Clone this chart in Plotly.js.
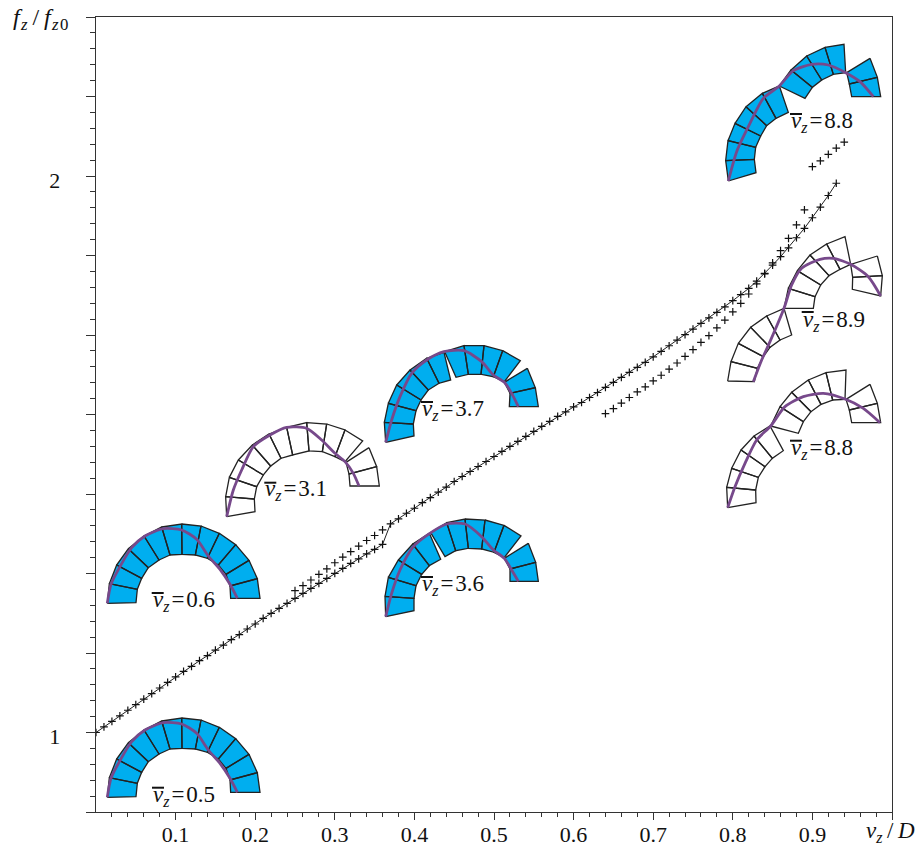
<!DOCTYPE html>
<html><head><meta charset="utf-8">
<script src="https://cdn.plot.ly/plotly-3.0.1.min.js"></script>
<style>html,body{margin:0;padding:0;background:#fff}</style></head>
<body><div id="chart" style="width:919px;height:845px"></div>
<script>
// ---- measured curve values (x = v_z/D, y = f_z/f_z0)
const mainA_x=[0,.01,.02,.03,.04,.05,.06,.07,.08,.09,.10,.11,.12,.13,.14,.15,.16,.17,.18,.19,.20,.21,.22,.23,.24,.25,.26,.27,.28,.29,.30,.31,.32,.33,.34,.35,.36,.37,.38,.39,.40,.41,.42,.43,.44,.45,.46,.47,.48,.49,.50,.51,.52,.53,.54,.55,.56,.57,.58,.59,.60,.61,.62,.63,.64,.65,.66,.67,.68,.69,.70,.71,.72,.73,.74,.75,.76,.77,.78,.79,.80,.81,.82,.83,.84,.85,.86,.87,.88,.89,.90,.91,.92,.93];
const mainA_y=[1.000,1.010,1.020,1.030,1.040,1.050,1.060,1.070,1.080,1.090,1.100,1.110,1.119,1.129,1.138,1.148,1.157,1.167,1.176,1.186,1.195,1.205,1.214,1.223,1.232,1.241,1.250,1.259,1.268,1.277,1.286,1.295,1.304,1.312,1.321,1.329,1.338,1.375,1.384,1.394,1.403,1.413,1.422,1.432,1.441,1.451,1.460,1.469,1.478,1.487,1.496,1.505,1.514,1.523,1.532,1.541,1.550,1.559,1.568,1.576,1.585,1.593,1.602,1.611,1.620,1.629,1.638,1.647,1.656,1.665,1.675,1.685,1.695,1.705,1.715,1.725,1.735,1.745,1.755,1.765,1.776,1.787,1.798,1.811,1.825,1.840,1.855,1.871,1.889,1.906,1.925,1.944,1.965,1.987];
const plusB_x=[.25,.26,.27,.28,.29,.30,.31,.32,.33,.34,.35,.36];
const plusB_y=[1.255,1.264,1.274,1.284,1.294,1.305,1.315,1.325,1.335,1.345,1.354,1.364];
const plusC_x=[.64,.65,.66,.67,.68,.69,.70,.71,.72,.73,.74,.75,.76,.77,.78,.79,.80,.81,.82,.83,.84,.85,.86,.87,.88,.89,.90,.91,.92,.93,.94];
const plusC_y=[1.573,1.582,1.592,1.602,1.612,1.621,1.632,1.642,1.653,1.664,1.676,1.688,1.701,1.713,1.727,1.741,1.756,1.771,1.788,1.806,1.824,1.844,1.866,1.888,1.912,1.939,2.017,2.027,2.039,2.050,2.061];

// ---- axis ticks
const xTicks=[.1,.2,.3,.4,.5,.6,.7,.8,.9,1];
const xLabels=['0.1','0.2','0.3','0.4','0.5','0.6','0.7','0.8','0.9',''];
const xMinor=[.02,.04,.06,.08,.12,.14,.16,.18,.22,.24,.26,.28,.32,.34,.36,.38,.42,.44,.46,.48,.52,.54,.56,.58,.62,.64,.66,.68,.72,.74,.76,.78,.82,.84,.86,.88,.92,.94,.96,.98];
const yTicks=[6/7,1,8/7,9/7,10/7,11/7,12/7,13/7,2,15/7,16/7];
const yLabels=['','1','','','','','','','2','',''];

// ---- arch insets, in their own schematic units (outer/inner rim joints, blocks listed as joint runs)
const archA_ox=[322,328,350,385,432,485,545,603,658,707,747,772,780];
const archA_oy=[292,233,177,128,90,63,54,60,82,116,163,218,277];
const archA_ix=[408,412,425,445,477,510,546,586,622,655,678,690,692];
const archA_iy=[290,250,217,185,162,147,145,147,157,177,205,240,277];
const archA_px=[322,333,362,395,435,490,545,590,625,660,690,712];
const archA_py=[292,235,178,125,90,68,72,100,150,190,235,277];
const archA_runs=[13];

const archB_ox=[20,17,28,55,97,147,200,260,320,375,428,447,470,478];
const archB_oy=[530,470,412,360,315,282,262,248,252,270,303,323,380,438];
const archB_ix=[105,103,110,130,152,183,218,267,307,345,375,378,387,390];
const archB_iy=[515,477,440,405,378,355,345,333,335,350,365,367,402,438];
const archB_px=[20,40,65,100,150,200,260,305,345,375,400,417];
const archB_py=[530,450,390,320,285,262,265,300,340,365,400,438];
const archB_runs=[11,3];

const archC_ox=[497,493,505,530,570,620,672,674,732,792,848,901,922,946,955];
const archC_oy=[307,247,190,135,90,55,37,35,17,17,32,62,85,143,200];
const archC_ix=[582,580,588,603,625,657,692,708,745,783,820,853,853,870,868];
const archC_iy=[288,252,212,180,150,130,120,112,103,103,110,125,127,160,200];
const archC_px=[497,515,540,575,620,672,732,785,820,853,875,895];
const archC_py=[307,240,170,100,60,35,32,65,105,127,160,200];
const archC_runs=[7,5,3];

const archD_ox=[497,495,505,535,578,628,632,680,735,795,852,903,925,947,955];
const archD_oy=[830,769,712,660,612,580,578,548,537,540,556,588,610,667,724];
const archD_ix=[582,582,588,605,628,662,675,707,745,785,822,853,853,870,870];
const archD_iy=[812,775,737,703,677,658,650,632,625,627,637,652,655,687,724];
const archD_px=[497,515,540,580,625,680,735,785,820,853,875,895];
const archD_py=[830,760,690,620,583,552,552,590,630,655,690,724];
const archD_runs=[6,6,3];

const archE_ox=[25,17,24,45,78,127,178,178,213,260,315,372,450,472,482];
const archE_oy=[453,392,332,280,230,190,168,168,120,78,52,43,85,142,200];
const archE_ix=[108,103,107,122,140,168,205,255,277,305,340,377,380,388,395];
const archE_iy=[428,388,352,318,287,265,247,205,172,150,133,128,128,162,200];
const archE_px=[25,50,85,130,178,220,275,325,377,420,460];
const archE_py=[453,365,290,205,168,122,103,105,128,155,200];
const archE_runs=[7,5,3];

const archF_ox=[23,33,55,92,140,192,192,205,232,270,320,375,472,487,482];
const archF_oy=[453,395,340,292,258,235,235,175,122,75,42,20,78,137,198];
const archF_ix=[103,112,130,150,180,215,280,285,302,327,360,392,392,398,397];
const archF_iy=[455,415,380,352,330,315,235,200,165,137,118,103,103,142,178];
const archF_px=[100,125,150,192,215,245,300,340,392,445,482];
const archF_py=[455,390,335,235,165,115,88,85,103,140,198];
const archF_runs=[6,6,3];

const archG_ox=[23,20,35,63,102,150,152,180,215,265,318,378,450,472,482];
const archG_oy=[833,772,715,660,618,588,588,530,487,450,428,420,463,520,578];
const archG_ix=[108,107,115,135,157,190,235,250,273,303,338,375,378,388,395];
const archG_iy=[818,780,742,710,685,662,610,575,545,523,510,508,508,540,578];
const archG_px=[23,45,75,110,152,195,250,310,375,430,480];
const archG_py=[833,770,700,630,588,530,500,490,507,535,578];
const archG_runs=[6,6,3];

// where each inset sits on the schematic layer, and its caption
const blue='#00AEEF', none='rgba(0,0,0,0)', purple='#77498B', ink='#222222';
const insets=[
 {ox:archA_ox,oy:archA_oy,ix:archA_ix,iy:archA_iy,px:archA_px,py:archA_py,runs:archA_runs,dx:0,dy:2100,fill:blue},
 {ox:archA_ox,oy:archA_oy,ix:archA_ix,iy:archA_iy,px:archA_px,py:archA_py,runs:archA_runs,dx:0,dy:1518,fill:blue},
 {ox:archB_ox,oy:archB_oy,ix:archB_ix,iy:archB_iy,px:archB_px,py:archB_py,runs:archB_runs,dx:660,dy:1020,fill:none},
 {ox:archC_ox,oy:archC_oy,ix:archC_ix,iy:archC_iy,px:archC_px,py:archC_py,runs:archC_runs,dx:660,dy:1020,fill:blue},
 {ox:archD_ox,oy:archD_oy,ix:archD_ix,iy:archD_iy,px:archD_px,py:archD_py,runs:archD_runs,dx:660,dy:1020,fill:blue},
 {ox:archE_ox,oy:archE_oy,ix:archE_ix,iy:archE_iy,px:archE_px,py:archE_py,runs:archE_runs,dx:2160,dy:90,fill:blue},
 {ox:archF_ox,oy:archF_oy,ix:archF_ix,iy:archF_iy,px:archF_px,py:archF_py,runs:archF_runs,dx:2160,dy:690,fill:none},
 {ox:archG_ox,oy:archG_oy,ix:archG_ix,iy:archG_iy,px:archG_px,py:archG_py,runs:archG_runs,dx:2160,dy:690,fill:none}
];
const capText=['0.5','0.6','3.1','3.7','3.6','8.8','8.9','8.8'];
const capX=[152,151.7,264.3,421,421,790,801.7,790];
const capBase=[803,607.7,496.7,417,592,129,328,456];
const capBar=[787.7,593,482.7,402,577,114,312,440.7];

const serif='"Liberation Serif","Times New Roman",serif';
const traces=[];
insets.forEach(a=>{
  const bx=[],by=[];
  let start=0;
  a.runs.forEach(n=>{
    for(let i=start;i<start+n-1;i++){
      bx.push(a.ox[i]+a.dx,a.ox[i+1]+a.dx,a.ix[i+1]+a.dx,a.ix[i]+a.dx,a.ox[i]+a.dx,null);
      by.push(a.oy[i]+a.dy,a.oy[i+1]+a.dy,a.iy[i+1]+a.dy,a.iy[i]+a.dy,a.oy[i]+a.dy,null);
    }
    start+=n;
  });
  traces.push({x:bx,y:by,xaxis:'x2',yaxis:'y2',mode:'lines',fill:'toself',fillcolor:a.fill,line:{color:ink,width:1.3},hoverinfo:'skip',showlegend:false});
  traces.push({x:a.px.map(v=>v+a.dx),y:a.py.map(v=>v+a.dy),xaxis:'x2',yaxis:'y2',mode:'lines',line:{color:purple,width:2.8,shape:'spline',smoothing:0.7},hoverinfo:'skip',showlegend:false});
});
// caption over-bars
capText.forEach((t,i)=>traces.push({x:[capX[i]*3,(capX[i]+12)*3],y:[capBar[i]*3,capBar[i]*3],xaxis:'x2',yaxis:'y2',mode:'lines',line:{color:'#111',width:2},hoverinfo:'skip',showlegend:false}));

const cross={symbol:'cross-thin-open',size:5.5,color:'#111',line:{color:'#111',width:1.2}};
traces.push({x:mainA_x,y:mainA_y,mode:'lines+markers',line:{color:ink,width:1},marker:cross,showlegend:false});
traces.push({x:plusB_x,y:plusB_y,mode:'markers',marker:cross,showlegend:false});
traces.push({x:plusC_x,y:plusC_y,mode:'markers',marker:cross,showlegend:false});

const annotations=capText.map((t,i)=>({
  xref:'x2',yref:'y2',x:capX[i]*3,y:(capBase[i]-7)*3,xanchor:'left',yanchor:'middle',showarrow:false,align:'left',
  text:'<i>v</i><sub><i>z</i></sub>\u200a=\u200a'+t,font:{family:serif,size:23,color:'#111'},borderpad:0
}));
annotations.push({xref:'paper',yref:'paper',x:-87/823,y:1.0,xanchor:'left',yanchor:'middle',showarrow:false,yshift:-2,
  text:'<i>f</i><sub>\u200a<i>z</i></sub>\u2009/\u2009<i>f</i><sub>\u200a<i>z</i>\u200a0</sub>',font:{family:serif,size:24,color:'#111'},borderpad:0});
annotations.push({xref:'paper',yref:'paper',x:1.0,y:-0.03,xanchor:'right',yanchor:'middle',showarrow:false,xshift:24,yshift:4,
  text:'<i>v</i><sub><i>z</i></sub>\u2009/\u2009<i>D</i>',font:{family:serif,size:23,color:'#111'},borderpad:0});

const layout={
  width:919,height:845,autosize:false,margin:{l:96,r:27,t:17,b:33,pad:0},
  paper_bgcolor:'#fff',plot_bgcolor:'#fff',showlegend:false,hovermode:false,
  font:{family:serif,size:22,color:'#111'},
  xaxis:{range:[0,1],tickmode:'array',tickvals:xTicks,ticktext:xLabels,ticks:'outside',ticklen:7,tickwidth:1,tickcolor:'#333',
    showgrid:false,zeroline:false,showline:true,mirror:true,linecolor:'#333',linewidth:1.3,tickangle:0,ticklabelstandoff:-5,
    minor:{tickmode:'array',tickvals:xMinor,ticks:'outside',ticklen:4,tickwidth:1,tickcolor:'#333',showgrid:false}},
  yaxis:{range:[6/7,16/7],tickmode:'array',tickvals:yTicks,ticktext:yLabels,ticks:'outside',ticklen:9,tickwidth:1,tickcolor:'#333',
    showgrid:false,zeroline:false,showline:true,mirror:true,linecolor:'#333',linewidth:1.3,ticklabelstandoff:21,ticklabelshift:4,
    minor:{tick0:1,dtick:1/35,ticks:'outside',ticklen:5,tickwidth:1,tickcolor:'#333',showgrid:false}},
  xaxis2:{overlaying:'x',range:[288,2676],visible:false,fixedrange:true},
  yaxis2:{overlaying:'y',range:[2436,51],visible:false,fixedrange:true},
  annotations:annotations
};
Plotly.newPlot('chart',traces,layout,{staticPlot:true,displayModeBar:false});
</script></body></html>
